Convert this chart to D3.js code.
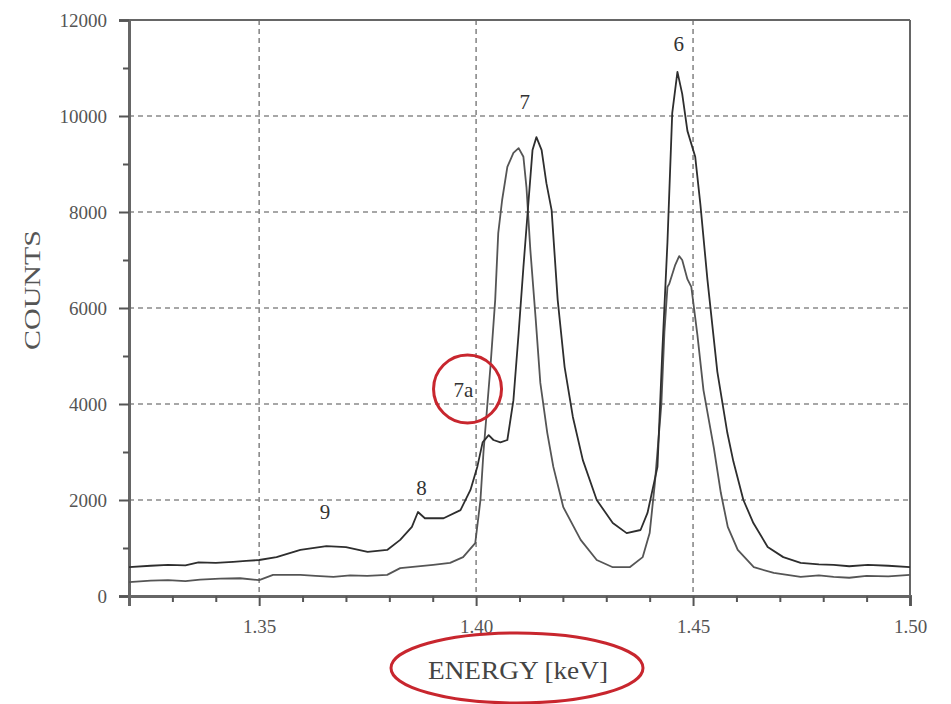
<!DOCTYPE html>
<html>
<head>
<meta charset="utf-8">
<script src="https://cdn.jsdelivr.net/npm/d3@7/dist/d3.min.js"></script>
<style>
  html, body { margin: 0; padding: 0; background: #fff; }
  svg { display: block; }
</style>
</head>
<body>
<svg id="chart" width="951" height="704"></svg>
<script>
// ---- data ----
const energyA = [1.3200,1.3250,1.3290,1.3330,1.3360,1.3400,1.3440,1.3470,1.3500,1.3540,1.3595,1.3655,1.3700,1.3750,1.3795,1.3825,1.3852,1.3866,1.3882,1.3925,1.3964,1.3987,1.4003,1.4015,1.4029,1.4040,1.4056,1.4072,1.4086,1.4098,1.4109,1.4121,1.4130,1.4139,1.4151,1.4162,1.4174,1.4188,1.4204,1.4223,1.4246,1.4278,1.4315,1.4347,1.4379,1.4395,1.4418,1.4429,1.4441,1.4452,1.4464,1.4475,1.4487,1.4505,1.4517,1.4533,1.4556,1.4579,1.4593,1.4616,1.4639,1.4672,1.4708,1.4748,1.4790,1.4824,1.4860,1.4903,1.4950,1.5000];
const countsA = [600,630,650,640,700,690,710,730,750,810,960,1040,1020,920,960,1170,1440,1750,1620,1620,1790,2210,2700,3200,3350,3250,3200,3250,4080,5480,6850,8250,9290,9560,9290,8600,8040,6170,4770,3730,2830,2000,1520,1310,1375,1730,2690,5060,7370,10060,10920,10460,9690,9150,8150,6600,4670,3400,2800,2000,1520,1020,810,690,660,650,620,650,630,600];

const energyB = [1.3200,1.3250,1.3290,1.3330,1.3364,1.3410,1.3456,1.3500,1.3532,1.3595,1.3630,1.3671,1.3710,1.3749,1.3795,1.3825,1.3901,1.3940,1.3970,1.3998,1.4010,1.4017,1.4033,1.4044,1.4051,1.4060,1.4072,1.4086,1.4098,1.4109,1.4116,1.4125,1.4137,1.4148,1.4164,1.4178,1.4201,1.4241,1.4278,1.4315,1.4354,1.4384,1.4400,1.4412,1.4427,1.4434,1.4441,1.4445,1.4459,1.4468,1.4475,1.4487,1.4496,1.4510,1.4524,1.4548,1.4564,1.4580,1.4603,1.4640,1.4686,1.4748,1.4790,1.4824,1.4860,1.4900,1.4950,1.5000];
const countsB = [290,320,330,310,340,360,370,330,440,440,420,400,430,420,440,580,650,690,810,1100,2000,3000,4770,6170,7560,8250,8940,9230,9330,9150,8520,7210,5810,4440,3400,2690,1850,1170,750,600,600,810,1310,2350,4000,5500,6440,6500,6900,7080,7000,6600,6440,5440,4290,3080,2150,1440,960,600,480,400,430,400,380,420,410,440];

const xMajorTicks = [1.35, 1.40, 1.45, 1.50];
const xTickLabels = ["1.35", "1.40", "1.45", "1.50"];
const xMinorTicks = [1.33,1.34,1.36,1.37,1.38,1.39,1.41,1.42,1.43,1.44,1.46,1.47,1.48,1.49];
const yMajorTicks = [0, 2000, 4000, 6000, 8000, 10000, 12000];
const yMinorTicks = [1000, 3000, 5000, 7000, 9000, 11000];

const peakLabels = ["9", "8", "7a", "7", "6"];
const peakEnergies = [1.3652, 1.3874, 1.3971, 1.4112, 1.4467];
const peakCounts = [1700, 2200, 4250, 10250, 11450];

const xTitle = "ENERGY [keV]";
const yTitle = "COUNTS";

// ---- layout ----
const svg = d3.select("#chart");
const plotLeft = 129, plotRight = 910, plotTop = 20, plotBottom = 596;
const x = d3.scaleLinear().domain([1.32, 1.50]).range([plotLeft, plotRight]);
const y = d3.scaleLinear().domain([0, 12000]).range([plotBottom, plotTop]);
const serif = "'Liberation Serif', 'DejaVu Serif', 'Times New Roman', serif";

// gridlines
const grid = svg.append("g");
grid.selectAll(".gy").data(yMajorTicks.filter(v => v > 0 && v < 12000)).join("line")
  .attr("x1", plotLeft).attr("x2", plotRight)
  .attr("y1", d => y(d)).attr("y2", d => y(d))
  .attr("stroke", "#8a8a8a").attr("stroke-width", 1.6).attr("stroke-dasharray", "5,4");
grid.selectAll(".gx").data(xMajorTicks.filter(v => v < 1.50)).join("line")
  .attr("y1", plotTop).attr("y2", plotBottom)
  .attr("x1", d => x(d)).attr("x2", d => x(d))
  .attr("stroke", "#8a8a8a").attr("stroke-width", 1.6).attr("stroke-dasharray", "5,4");

// frame
svg.append("line").attr("x1", plotLeft).attr("x2", plotRight).attr("y1", plotTop).attr("y2", plotTop)
  .attr("stroke", "#666").attr("stroke-width", 2);
svg.append("line").attr("x1", plotRight).attr("x2", plotRight).attr("y1", plotTop).attr("y2", plotBottom)
  .attr("stroke", "#666").attr("stroke-width", 2);

// axes
const yAxis = d3.axisLeft(y).tickValues(yMajorTicks).tickSize(10).tickPadding(12).tickFormat(d3.format("d"));
svg.append("g").attr("transform", `translate(${plotLeft},0)`).call(yAxis);
const yMinor = d3.axisLeft(y).tickValues(yMinorTicks).tickSize(6).tickFormat("");
svg.append("g").attr("transform", `translate(${plotLeft},0)`).call(yMinor)
  .call(g => g.select(".domain").remove());

const xAxis = d3.axisBottom(x).tickValues(xMajorTicks).tickSize(10).tickPadding(14)
  .tickFormat((d, i) => xTickLabels[i]);
svg.append("g").attr("transform", `translate(0,${plotBottom})`).call(xAxis);
const xMinor = d3.axisBottom(x).tickValues(xMinorTicks).tickSize(6).tickFormat("");
svg.append("g").attr("transform", `translate(0,${plotBottom})`).call(xMinor)
  .call(g => g.select(".domain").remove());

svg.selectAll(".domain").attr("stroke", "#666").attr("stroke-width", 3);
svg.selectAll(".tick line").attr("stroke", "#555").attr("stroke-width", 2);
svg.selectAll(".tick text").attr("font-family", serif).attr("font-size", 19).attr("fill", "#555");

// series
const line = d3.line().x(d => x(d[0])).y(d => y(d[1]));
const dataA = energyA.map((e, i) => [e, countsA[i]]);
const dataB = energyB.map((e, i) => [e, countsB[i]]);
svg.append("path").datum(dataB).attr("d", line)
  .attr("fill", "none").attr("stroke", "#555").attr("stroke-width", 1.8).attr("stroke-linejoin", "round");
svg.append("path").datum(dataA).attr("d", line)
  .attr("fill", "none").attr("stroke", "#2e2e2e").attr("stroke-width", 1.8).attr("stroke-linejoin", "round");

// peak labels
svg.selectAll(".pl").data(peakLabels).join("text")
  .attr("x", (d, i) => x(peakEnergies[i]))
  .attr("y", (d, i) => y(peakCounts[i]))
  .attr("text-anchor", "middle")
  .attr("dominant-baseline", "middle")
  .attr("font-family", serif).attr("font-size", 21).attr("fill", "#333")
  .text(d => d);

// red circle around 7a
svg.append("circle")
  .attr("cx", x(peakEnergies[2]) + 4).attr("cy", y(peakCounts[2]) - 3).attr("r", 34)
  .attr("fill", "none").attr("stroke", "#c8262e").attr("stroke-width", 3);

// axis titles
svg.append("text")
  .attr("x", 518).attr("y", 679)
  .attr("text-anchor", "middle")
  .attr("font-family", serif).attr("font-size", 25).attr("fill", "#444")
  .attr("textLength", 180).attr("lengthAdjust", "spacingAndGlyphs")
  .text(xTitle);
svg.append("ellipse")
  .attr("cx", 517).attr("cy", 668).attr("rx", 126).attr("ry", 35)
  .attr("fill", "none").attr("stroke", "#c8262e").attr("stroke-width", 3);

svg.append("text")
  .attr("transform", "translate(40,290) rotate(-90)")
  .attr("text-anchor", "middle")
  .attr("font-family", serif).attr("font-size", 24).attr("fill", "#555")
  .attr("textLength", 120).attr("lengthAdjust", "spacingAndGlyphs")
  .text(yTitle);
</script>
</body>
</html>
